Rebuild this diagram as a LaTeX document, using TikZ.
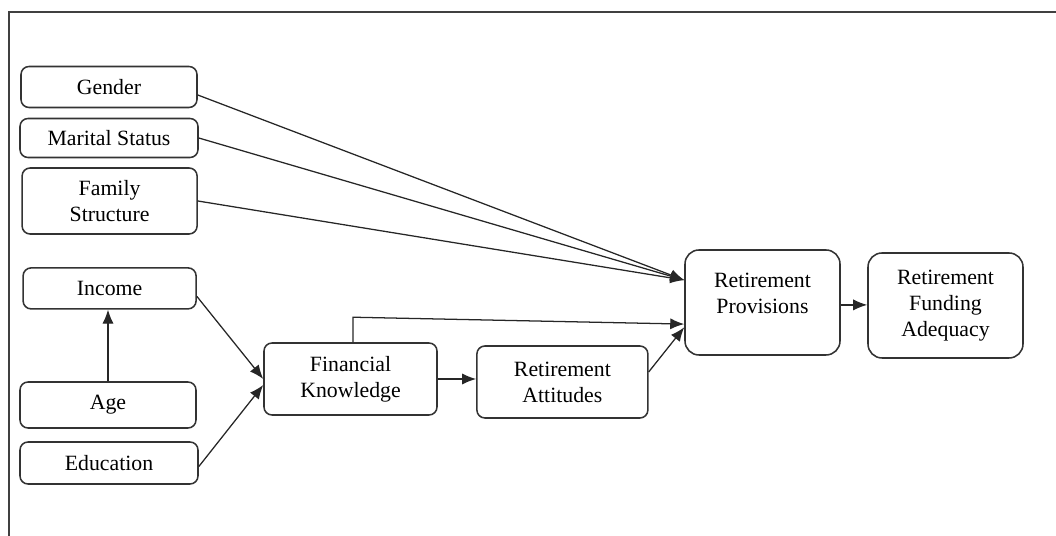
\documentclass[tikz,border=0pt]{standalone}
\usepackage{fontspec}
\setmainfont{Liberation Serif}
\usetikzlibrary{arrows.meta}

\begin{document}
\begin{tikzpicture}[
  box/.style={draw=black!80,line width=1.1pt,rounded corners=0.2cm,align=center,
    inner sep=0pt,font=\fontsize{15.5}{18.5}\selectfont},
  bigbox/.style={box,rounded corners=0.35cm},
  arr/.style={-{Latex[length=3.5mm,width=2.8mm]},line width=0.9pt,draw=black!85}
]
  % 枠
  \useasboundingbox (0,0) rectangle (26.4,13.4);
  \draw[line width=1.2pt,black!75] (0.225,0) -- (0.225,13.1) -- (26.4,13.1);
  % 属性
  \node[box,minimum width=4.4cm,minimum height=1.025cm] (gen) at (2.725,11.225) {Gender};
  \node[box,minimum width=4.45cm,minimum height=0.975cm] (mar) at (2.725,9.95) {Marital Status};
  \node[box,minimum width=4.375cm,minimum height=1.65cm] (fam) at (2.74,8.375) {Family\\Structure};
  \node[box,minimum width=4.325cm,minimum height=1.025cm] (inc) at (2.74,6.19) {Income};
  \node[box,minimum width=4.4cm,minimum height=1.15cm] (age) at (2.7,3.275) {Age};
  \node[box,minimum width=4.45cm,minimum height=1.05cm] (edu) at (2.725,1.825) {Education};
  % 中間
  \node[box,minimum width=4.325cm,minimum height=1.8cm] (fk) at (8.7625,3.925) {Financial\\Knowledge};
  \node[box,minimum width=4.275cm,minimum height=1.8cm] (ra) at (14.06,3.85) {Retirement\\Attitudes};
  % 結果
  \node[bigbox,minimum width=3.875cm,minimum height=2.625cm] (prov) at (19.0625,5.8375) {Retirement\\Provisions\\[-6pt]\mbox{}};
  \node[bigbox,minimum width=3.875cm,minimum height=2.625cm] (fund) at (23.6375,5.7625) {Retirement\\Funding\\Adequacy};
  % 矢印
  \coordinate (pin1) at ([yshift=5.6mm]prov.west); %上の合流点
  \coordinate (pin2) at ([yshift=-5.4mm]prov.west);
  \coordinate (pin3) at ([yshift=-6.2mm]prov.west);
  \draw[arr] ([yshift=-2mm]gen.east) -- (pin1);
  \draw[arr] (mar.east) -- (pin1);
  \draw[arr] (fam.east) -- (pin1);
  \draw[arr] ([yshift=-2mm]inc.east) -- (fk.west);
  \draw[arr] ([yshift=-0.9mm]edu.east) -- ([yshift=-1.5mm]fk.west);
  \draw[arr] (age.north) -- (age.north |- inc.south);
  \draw[arr] ([xshift=0.6mm]fk.north) -- ++(0,0.625) -- (pin2);
  \draw[arr] (fk.east) -- (fk.east -| ra.west);
  \draw[arr] ([yshift=2.5mm]ra.east) -- (pin3);
  \draw[arr] ([yshift=-0.6mm]prov.east) -- ([yshift=-0.6mm]prov.east -| fund.west);
\end{tikzpicture}
\end{document}
